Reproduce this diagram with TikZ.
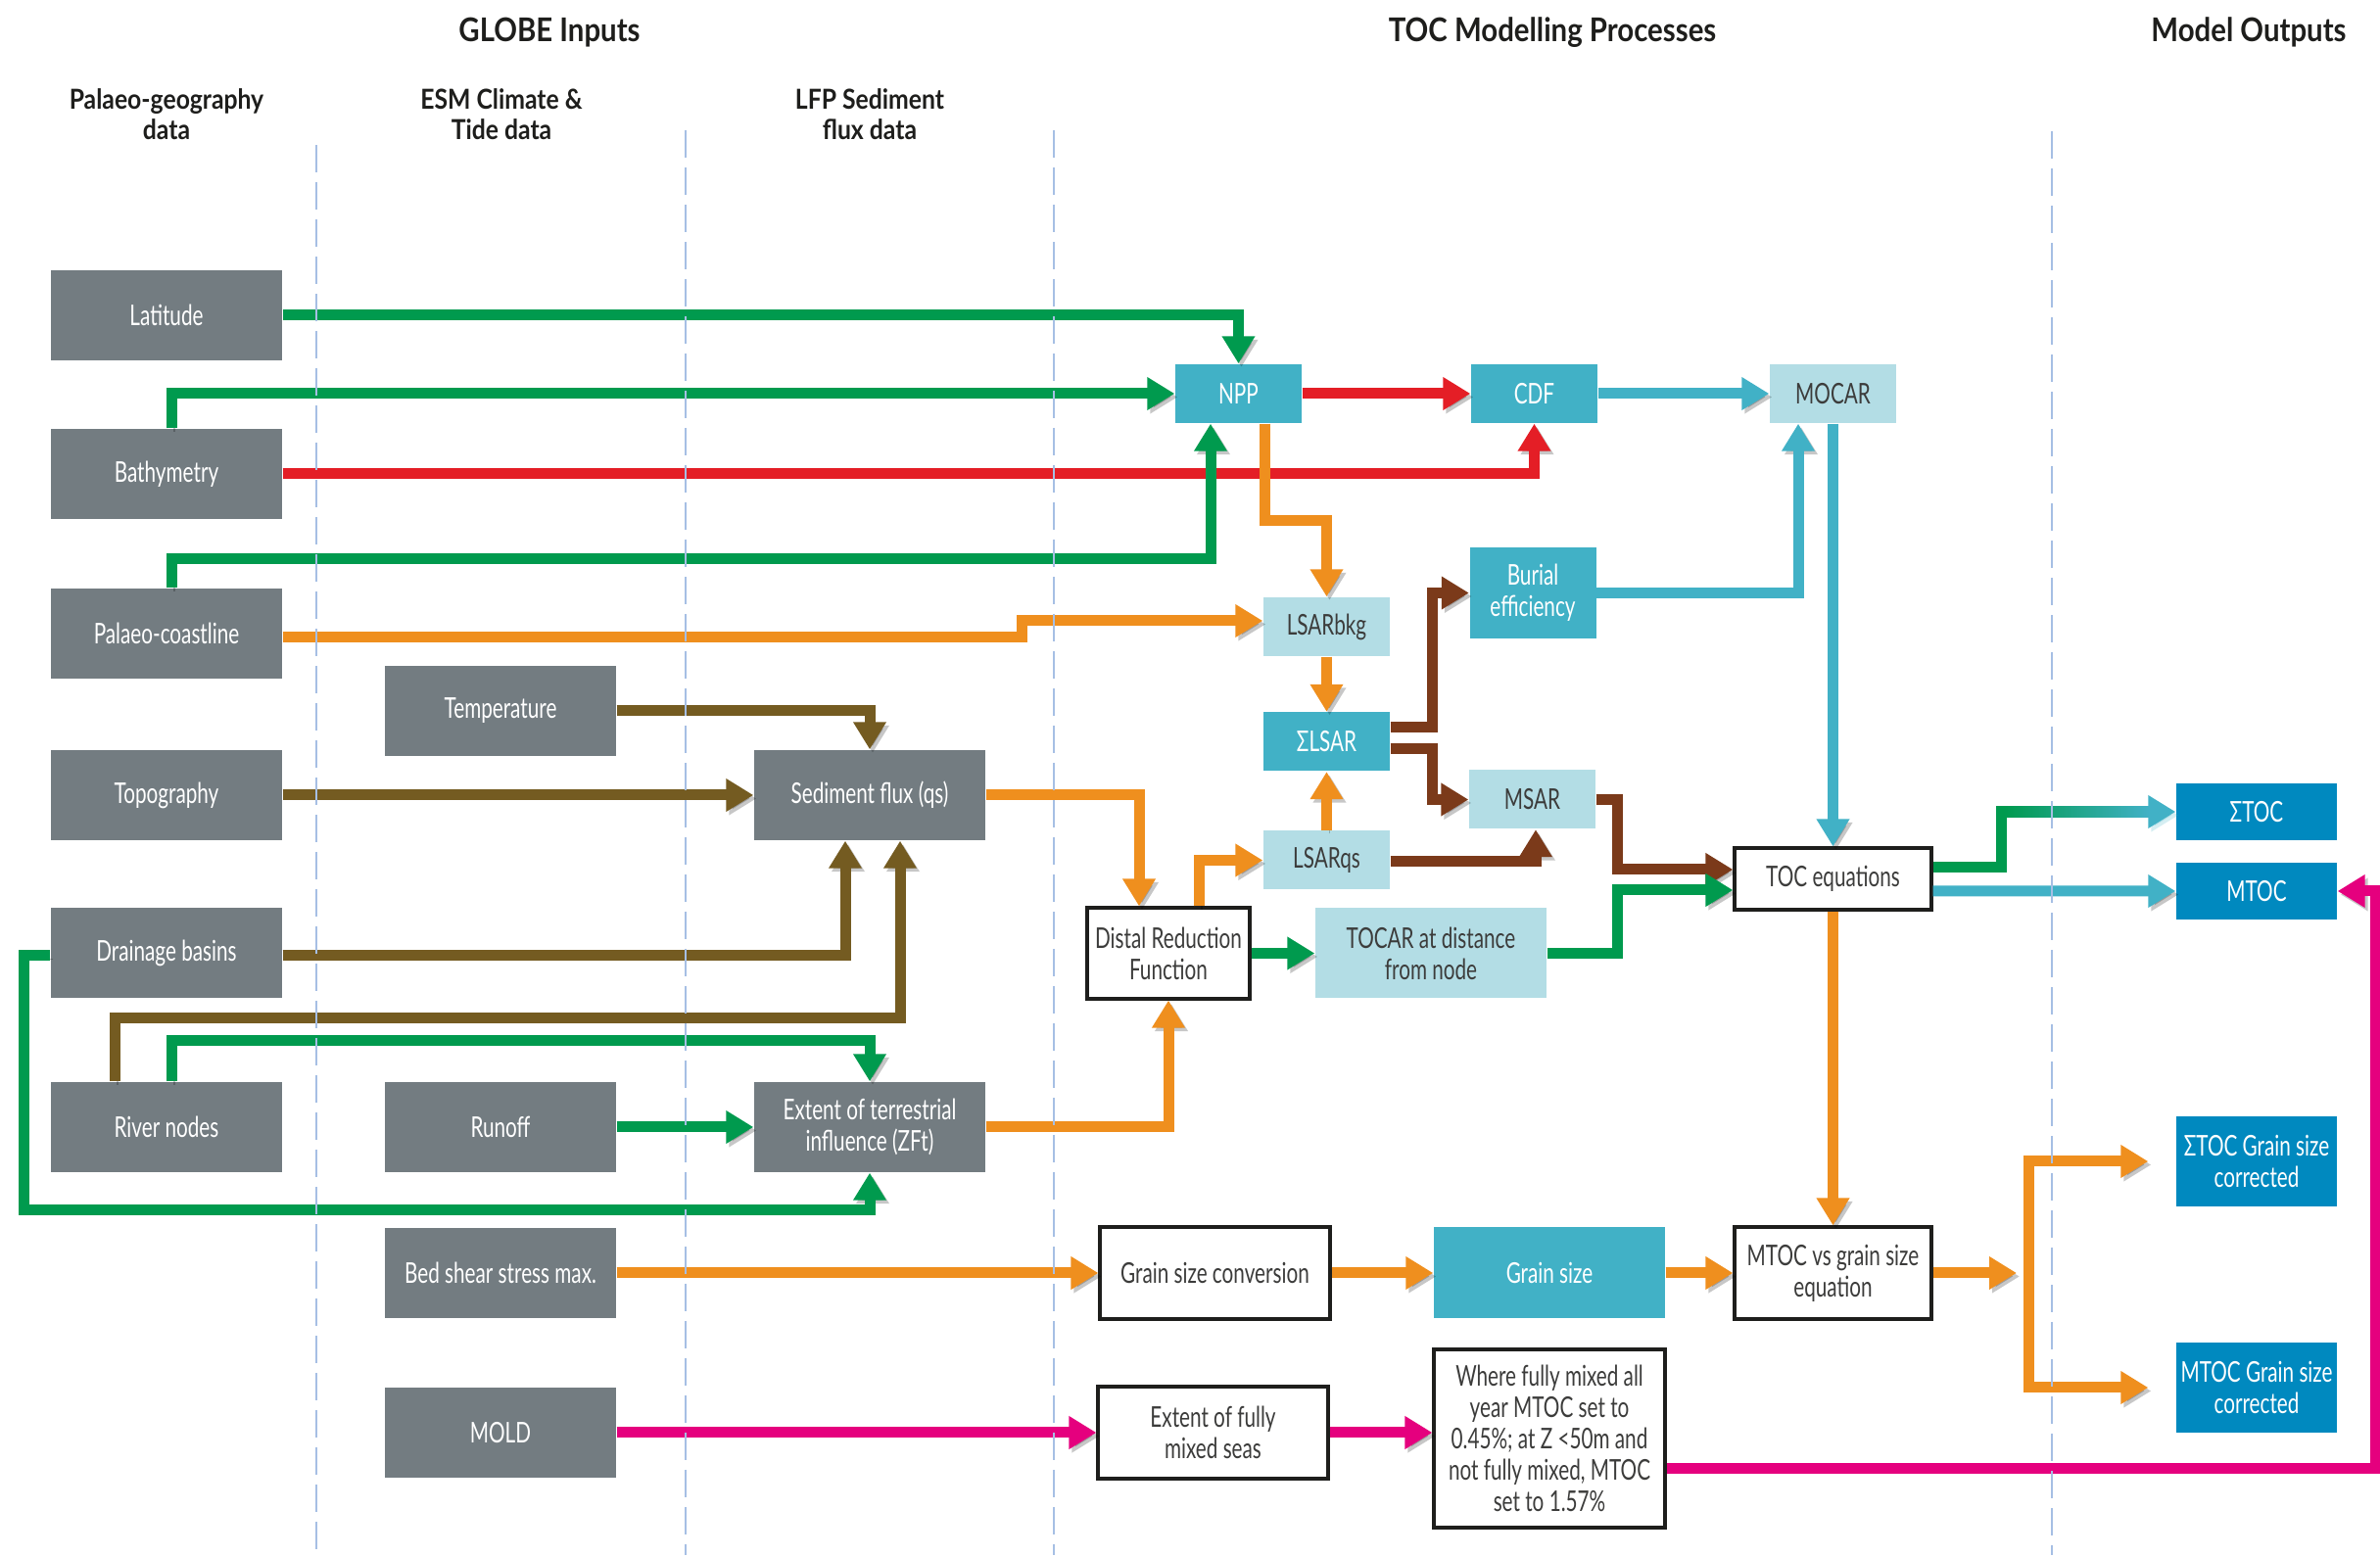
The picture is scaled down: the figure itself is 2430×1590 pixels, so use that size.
\documentclass[tikz,border=0pt]{standalone}
\usepackage{fontspec}
\setmainfont{Lato}[FakeStretch=0.71]
\newfontfamily\headfont{Lato}[FakeStretch=0.88]
\usetikzlibrary{arrows.meta,calc}

\definecolor{boxgray}{HTML}{737C81}
\definecolor{cteal}{HTML}{41B1C6}
\definecolor{clight}{HTML}{B3DDE5}
\definecolor{cout}{HTML}{0089BF}
\definecolor{cgreen}{HTML}{009A4E}
\definecolor{cred}{HTML}{E41E26}
\definecolor{corange}{HTML}{EF8F1E}
\definecolor{colive}{HTML}{745B21}
\definecolor{cbrown}{HTML}{7B3A1A}
\definecolor{cmag}{HTML}{E5007E}
\definecolor{cdash}{HTML}{A6BFE4}
\definecolor{ctext}{HTML}{3C3C3B}
\definecolor{chead}{HTML}{1E1E1C}

\newcommand\boxfont{\fontsize{8.3}{9.1}\selectfont}

\tikzset{
  base/.style={inner sep=0pt, align=center, font=\boxfont},
  input/.style={base, fill=boxgray, text=white, minimum width=23.6mm, minimum height=9.2mm},
  proc/.style={base, fill=cteal, text=white, minimum width=12.9mm, minimum height=6mm},
  lite/.style={base, fill=clight, text=ctext, minimum width=12.9mm, minimum height=6mm},
  plain/.style={base, draw=chead, line width=0.9pt, fill=white, text=ctext},
  output/.style={base, fill=cout, text=white, minimum width=16.4mm, minimum height=5.8mm},
  head/.style={align=center, text=chead, font=\headfont\fontsize{9.5}{11}\selectfont\bfseries},
  sub/.style={align=center, text=chead, font=\headfont\fontsize{8}{8.8}\selectfont\bfseries},
  flow/.style={line width=1.1mm, -{Triangle[width=3.2mm,length=2.8mm]},
    preaction={draw=black, opacity=0.22, transform canvas={shift={(0.3mm,-0.35mm)}}}},
  flowboth/.style={flow, {Triangle[width=3.2mm,length=2.8mm]}-{Triangle[width=3.2mm,length=2.8mm]}},
  tipcol/.style={-{Triangle[width=3.2mm,length=2.8mm,color=#1]}},
  lane/.style={draw=cdash, line width=0.6pt, dash pattern=on 2.8mm off 1mm},
}

\begin{document}
\begin{tikzpicture}[x=0.1mm,y=-0.1mm]
\useasboundingbox (0,0) rectangle (2430,1590);

% column headings
\node[head] (hglobe) at (561,33) {GLOBE Inputs};
\node[head] (htoc) at (1585,33) {TOC Modelling Processes};
\node[head] (hout) at (2296,33) {Model Outputs};
\node[sub] (hpal) at (170,117) {Palaeo-geography\\data};
\node[sub] (hesm) at (512,117) {ESM Climate \&\\Tide data};
\node[sub] (hlfp) at (888,117) {LFP Sediment\\flux data};

% GLOBE inputs
\node[input] (lat) at (170,322) {Latitude};
\node[input] (bathy) at (170,484) {Bathymetry};
\node[input] (coast) at (170,647) {Palaeo-coastline};
\node[input] (topo) at (170,812) {Topography};
\node[input] (drain) at (170,973) {Drainage basins};
\node[input] (river) at (170,1151) {River nodes};
\node[input] (temp) at (511,726) {Temperature};
\node[input] (runoff) at (511,1151) {Runoff};
\node[input] (bed) at (511,1300) {Bed shear stress max.};
\node[input] (mold) at (511,1463) {MOLD};
\node[input] (sed) at (888,812) {Sediment flux (qs)};
\node[input] (ext) at (888,1151) {Extent of terrestrial\\influence (ZFt)};

% TOC modelling processes
\node[proc] (npp) at (1264.5,402) {NPP};
\node[proc] (cdf) at (1566.5,402) {CDF};
\node[lite] (mocar) at (1871.5,402) {MOCAR};
\node[proc, minimum height=9.3mm] (burial) at (1565,605.5) {Burial\\efficiency};
\node[lite] (bkg) at (1354.5,640) {LSARbkg};
\node[proc] (slsar) at (1354.5,757.5) {ΣLSAR};
\node[lite] (msar) at (1564.5,816.5) {MSAR};
\node[lite] (qs) at (1354.5,878.5) {LSARqs};
\node[plain, minimum width=16.6mm, minimum height=9.3mm] (dist) at (1193,973.5) {Distal Reduction\\Function};
\node[lite, minimum width=23.6mm, minimum height=9.2mm] (tocar) at (1461,973.5) {TOCAR at distance\\from node};
\node[plain, minimum width=20.1mm, minimum height=6.3mm] (toc) at (1871.5,897.5) {TOC equations};
\node[plain, minimum width=23.5mm, minimum height=9.4mm] (gsc) at (1240.5,1300) {Grain size conversion};
\node[proc, minimum width=23.6mm, minimum height=9.3mm] (gs) at (1582,1300) {Grain size};
\node[plain, minimum width=20.1mm, minimum height=9.4mm] (mvg) at (1871.5,1300) {MTOC vs grain size\\equation};
\node[plain, minimum width=23.5mm, minimum height=9.4mm] (efm) at (1238.5,1463) {Extent of fully\\mixed seas};
\node[plain, minimum width=23.6mm, minimum height=18.2mm] (where) at (1582,1469)
  {Where fully mixed all\\year MTOC set to\\0.45\%; at Z <50m and\\not fully mixed, MTOC\\set to 1.57\%};

% model outputs
\node[output] (stoc) at (2304,829) {ΣTOC};
\node[output] (mtoc) at (2304,910) {MTOC};
\node[output, minimum height=9.2mm] (sgc) at (2304,1186) {ΣTOC Grain size\\corrected};
\node[output, minimum height=9.2mm] (mgc) at (2304,1417) {MTOC Grain size\\corrected};

% palaeo-geography links
\draw[flow, cgreen] (lat.east) -| (npp.north);
\draw[flow, cgreen] ([xshift=0.5mm]bathy.north) |- (npp.west);
\draw[flow, cred] (bathy.east) -| (cdf.south);
\draw[flow, cgreen] ([xshift=0.5mm]coast.north) -- ++(0,-30) -| ([xshift=-2.85mm]npp.south);
\draw[flow, corange] ([yshift=-0.4mm]coast.east) -- ++(755,0) |- ([yshift=0.6mm]bkg.west);

% sediment flux
\draw[flow, colive] (temp.east) -| (sed.north);
\draw[flow, colive] (topo) -- (sed);
\draw[flow, colive] ([yshift=-0.3mm]drain.east) -| ([xshift=-2.5mm]sed.south);
\draw[flow, colive] ([xshift=-5.3mm]river.north) -- ++(0,-65) -| ([xshift=3.1mm]sed.south);
\draw[flow, cgreen] ([xshift=0.5mm]river.north) -- ++(0,-42) -| (ext.north);
\draw[flow, cgreen] (runoff) -- (ext);
\draw[flow, cgreen] ([yshift=-0.3mm]drain.west) -- ++(-27,0) -- ++(0,260) -| (ext.south);

% distal reduction and LSAR
\draw[flow, corange] (sed.east) -| ([xshift=-3mm]dist.north);
\draw[flow, corange] (ext.east) -| (dist.south);
\draw[flow, corange] ([xshift=3.1mm]dist.north) |- (qs.west);
\draw[flow, cgreen] (dist) -- (tocar);
\draw[flow, corange] (qs) -- (slsar);
\draw[flow, corange] (bkg) -- (slsar);
\draw[flow, corange] ([xshift=2.65mm]npp.south) -- ++(0,99) -| (bkg.north);
\draw[flow, cbrown] ([yshift=1.45mm]slsar.east) -- ++(43,0) |- (burial.west);
\draw[flow, cbrown] ([yshift=-0.75mm]slsar.east) -- ++(43,0) |- (msar.west);
\draw[flow, cbrown] ([yshift=-0.15mm]qs.east) -| ([xshift=0.35mm]msar.south);
\draw[flow, cbrown] (msar.east) -- ++(22,0) |- ([yshift=0.95mm]toc.west);
\draw[flow, cgreen] (tocar.east) -- ++(72,0) |- ([yshift=-1.15mm]toc.west);

% carbon chain
\draw[flow, cred] (npp) -- (cdf);
\draw[flow, cteal] (cdf) -- (mocar);
\draw[flow, cteal] (burial.east) -| ([xshift=-3.55mm]mocar.south);
\draw[flow, cteal] (mocar) -- (toc);

% outputs
\draw[flow, cgreen, tipcol=cteal] ([yshift=1.15mm]toc.east) -- ++(70,0) |- (stoc.west);
\shade[left color=cgreen, right color=cteal] ($(stoc.west)+(-175,-5.5)$) rectangle ($(stoc.west)+(-27,5.5)$);
\draw[flow, cteal] ([yshift=-1.25mm]toc.east) -- (mtoc.west);
\draw[flow, corange] (toc) -- (mvg);

% grain size
\draw[flow, corange] (bed) -- (gsc);
\draw[flow, corange] (gsc) -- (gs);
\draw[flow, corange] (gs) -- (mvg);
\coordinate (br) at (2071,1300);
\draw[flow, corange] (mvg.east) -- ([xshift=-1.2mm]br);
\draw[flowboth, corange] ([xshift=-2.8mm]sgc.west) -| (br) |- ([xshift=-2.8mm]mgc.west);

% mixed seas
\draw[flow, cmag] (mold) -- (efm);
\draw[flow, cmag] (efm.east) -- (efm.east -| where.west);
\draw[flow, cmag] ([yshift=-3.1mm]where.east) -- ++(724,0) |- (mtoc.east);

% lane dividers
\foreach \xd/\yd in {323/148, 700/133, 1076/133, 2095/134}
  \draw[lane] (\xd,\yd) -- (\xd,1588);
\end{tikzpicture}
\end{document}
